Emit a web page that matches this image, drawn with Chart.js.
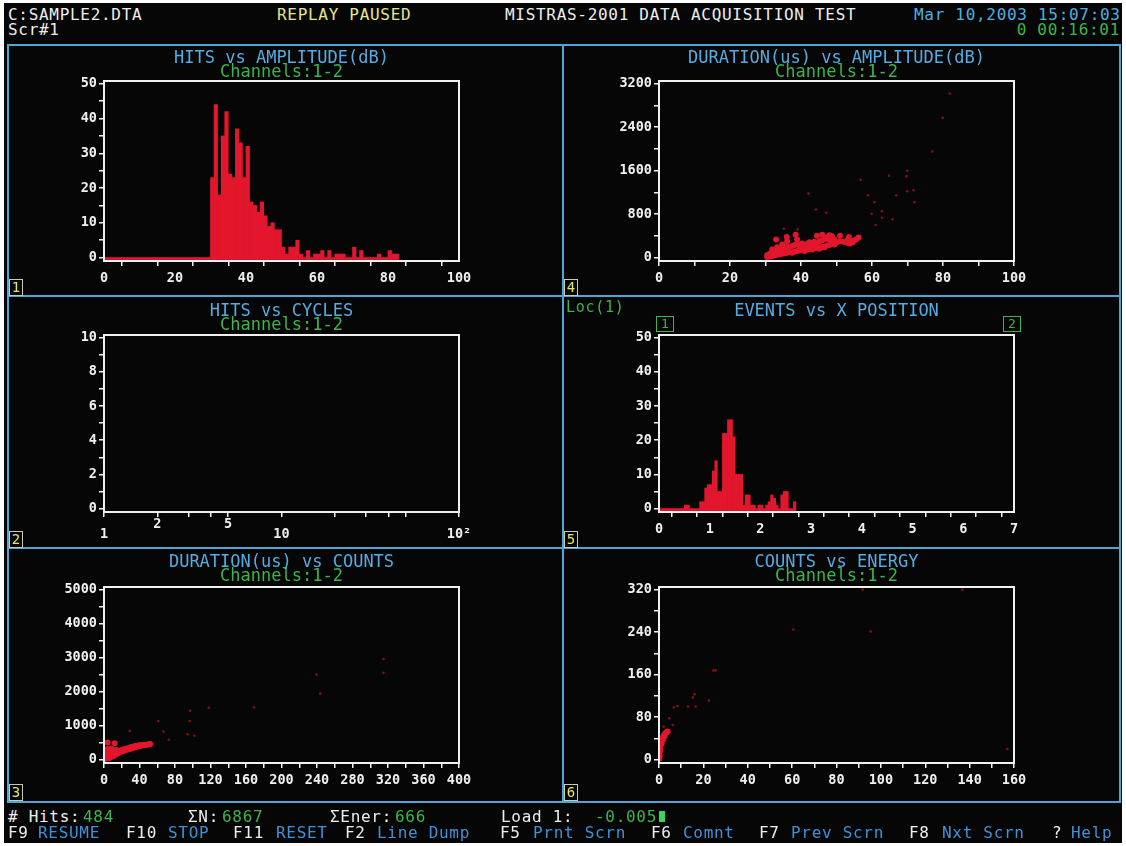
<!DOCTYPE html>
<html>
<head>
<meta charset="utf-8">
<script src="https://cdn.jsdelivr.net/npm/chart.js@4.4.0/dist/chart.umd.min.js"></script>
<style>
  body { margin: 0; background: #fff; width: 1126px; height: 846px; overflow: hidden; position: relative;
         font-family: 'DejaVu Sans Mono', monospace; }
  #screen { position: absolute; left: 4px; top: 3px; width: 1118px; height: 840px; background: #060606; }
  .t { position: absolute; font-size: 16px; line-height: 16px; letter-spacing: 0.7px; white-space: pre; color: #eee; }
  .line { position: absolute; background: #4fa6d6; }
  .num { position: absolute; width: 12px; height: 15px; border: 1px solid #c9c9b4; color: #e6e66a;
         font-size: 14px; line-height: 15px; text-align: center; }
  .gbox { position: absolute; width: 16px; height: 14px; border: 1px solid #3cb54a; color: #3cb54a;
          font-size: 13px; line-height: 14px; text-align: center; }
  canvas { position: absolute; }
  .w { color: #eee; } .g { color: #3cb54a; } .b { color: #3f92d8; } .y { color: #e6e68a; } .c { color: #4fb0e0; }
</style>
</head>
<body>
<div id="screen"></div>

<canvas id="c1" width="554" height="248" style="left:9px;top:47px"></canvas>
<canvas id="c4" width="554" height="248" style="left:564px;top:47px"></canvas>
<canvas id="c2" width="554" height="249" style="left:9px;top:298px"></canvas>
<canvas id="c5" width="554" height="249" style="left:564px;top:298px"></canvas>
<canvas id="c3" width="554" height="251" style="left:9px;top:550px"></canvas>
<canvas id="c6" width="554" height="251" style="left:564px;top:550px"></canvas>

<!-- frame -->
<div class="line" style="left:7px;top:44px;width:1114px;height:2px"></div>
<div class="line" style="left:7px;top:801px;width:1114px;height:2px"></div>
<div class="line" style="left:7px;top:44px;width:2px;height:759px"></div>
<div class="line" style="left:1119px;top:44px;width:2px;height:759px"></div>
<div class="line" style="left:562px;top:44px;width:2px;height:759px"></div>
<div class="line" style="left:7px;top:295px;width:1114px;height:2px"></div>
<div class="line" style="left:7px;top:547px;width:1114px;height:2px"></div>

<!-- panel numbers -->
<div class="num" style="left:9px;top:279px">1</div>
<div class="num" style="left:564px;top:279px">4</div>
<div class="num" style="left:9px;top:531px">2</div>
<div class="num" style="left:564px;top:531px">5</div>
<div class="num" style="left:9px;top:784px">3</div>
<div class="num" style="left:564px;top:784px">6</div>

<!-- panel 5 extras -->
<div class="t g" style="left:566px;top:299px;font-size:15px">Loc(1)</div>
<div class="gbox" style="left:656px;top:316px">1</div>
<div class="gbox" style="left:1003px;top:316px">2</div>

<!-- header -->
<div class="t w" style="left:8px;top:7px">C:SAMPLE2.DTA</div>
<div class="t w" style="left:8px;top:22px">Scr#1</div>
<div class="t y" style="left:277px;top:7px">REPLAY PAUSED</div>
<div class="t w" style="left:505px;top:7px">MISTRAS-2001 DATA ACQUISITION TEST</div>
<div class="t c" style="left:914px;top:7px">Mar 10,2003 15:07:03</div>
<div class="t g" style="right:6px;top:22px">0 00:16:01</div>

<!-- footer -->
<div class="t w" style="left:8px;top:809px"># Hits:</div>
<div class="t g" style="left:83px;top:809px">484</div>
<div class="t w" style="left:188px;top:809px">ΣN:</div>
<div class="t g" style="left:222px;top:809px">6867</div>
<div class="t w" style="left:330px;top:809px">ΣEner:</div>
<div class="t g" style="left:395px;top:809px">666</div>
<div class="t w" style="left:501px;top:809px">Load 1:</div>
<div class="t g" style="left:595px;top:809px">-0.005</div>
<div style="position:absolute;left:659px;top:811px;width:6px;height:11px;background:#3cd45a"></div>

<div class="t w" style="left:8px;top:825px">F9</div><div class="t b" style="left:38px;top:825px">RESUME</div>
<div class="t w" style="left:126px;top:825px">F10</div><div class="t b" style="left:168px;top:825px">STOP</div>
<div class="t w" style="left:233px;top:825px">F11</div><div class="t b" style="left:276px;top:825px">RESET</div>
<div class="t w" style="left:345px;top:825px">F2</div><div class="t b" style="left:377px;top:825px">Line Dump</div>
<div class="t w" style="left:500px;top:825px">F5</div><div class="t b" style="left:533px;top:825px">Prnt Scrn</div>
<div class="t w" style="left:651px;top:825px">F6</div><div class="t b" style="left:683px;top:825px">Comnt</div>
<div class="t w" style="left:759px;top:825px">F7</div><div class="t b" style="left:791px;top:825px">Prev Scrn</div>
<div class="t w" style="left:909px;top:825px">F8</div><div class="t b" style="left:942px;top:825px">Nxt Scrn</div>
<div class="t w" style="left:1052px;top:825px">?</div><div class="t b" style="left:1071px;top:825px">Help</div>

<script>
// ---- data: panel 1, hits per 1 dB amplitude bin (bins 0..82)
const ampHits = [
  0,0,0,0,0,0,0,0,0,0, 0,0,0,0,0,0,0,0,0,0, 0,0,0,0,0,0,0,0,0,0,
  23,44,18,35,42,24,23,37,33,23, 32,16,15,13,16,12,9,10,8,8,
  3,1,3,3,5,1,0,2,0,1, 1,2,0,2,0,1,1,1,0,0,
  3,0,2,0,0,0,0,1,0,0, 2,1,1
];
const ampBinWidth = 1;

// ---- panel 4, duration(us) vs amplitude(dB)
const durAmpCluster = [
  [30.5,10],[30.5,40],[31.2,20],[31.2,70],[31.9,30],[31.9,100],[31.9,150],[32.6,40],[32.6,110],
  [33.3,50],[33.3,130],[33.3,190],[34.0,60],[34.0,150],[34.7,70],[34.7,170],[34.7,240],[35.4,80],
  [35.4,180],[36.1,90],[36.1,200],[36.1,300],[36.8,100],[36.8,190],[37.5,90],[37.5,210],[38.2,110],
  [38.2,230],[38.9,120],[38.9,240],[38.9,330],[39.6,130],[39.6,220],[40.3,140],[40.3,260],[41.0,120],
  [41.0,230],[41.7,150],[41.7,250],[42.4,160],[42.4,280],[43.1,150],[43.1,240],[43.8,170],[43.8,290],
  [44.5,180],[44.5,260],[45.2,160],[45.2,300],[45.9,200],[45.9,320],[46.6,190],[46.6,330],[47.3,220],
  [47.3,370],[48.0,230],[48.0,330],[48.0,410],[48.7,260],[48.7,390],[49.4,240],[49.4,330],[50.1,280],
  [51.0,300],[52.0,290],[53.0,270],[53.0,310],[53.8,260],[53.8,300],[54.6,280],[54.6,310],[55.5,330],
  [56.2,370],[33,330],[36,380],[38.5,420],[44.5,400],[46,420],[51,400],[53.5,380]
];
const durAmpSparse = [
  [81.9,3020],[79.9,2574],[77,1952],[69.9,1598],[69.7,1494],[64.8,1506],[56.8,1433],[42.1,1177],
  [58.9,1147],[66.8,1147],[69.9,1220],[71.7,1238],[60.7,1019],[71.9,1019],[44.2,885],[47.1,823],
  [59.9,805],[62.8,854],[62.8,732],[65.8,702],[61,598],[35.2,531],[39,518]
];

// ---- panel 5, events per 0.05 x-position bin (bins 0..53)
const posEvents = [
  0,0,0,0,0,0,0,0,0,0, 1,1,0,0,0,0,2,2,6,7,
  7,11,14,5,5,22,22,26,26,21, 10,10,10,1,4,4,1,1,0,1,
  1,0,1,2,4,3,1,0,4,5, 5,0,0,2
];
const posBinWidth = 0.05;

// ---- panel 3, duration(us) vs counts
const durCntCluster = [
  [1,20],[1,120],[1,220],[2,60],[2,170],[2,280],[3,30],[3,130],[3,240],[4,80],[4,190],[4,310],[4,500],
  [5,40],[5,150],[5,260],[6,100],[6,210],[7,60],[7,170],[8,130],[8,240],[8,330],[9,90],[9,200],
  [10,150],[10,260],[11,110],[11,210],[12,170],[12,270],[12,480],[13,140],[14,200],[14,280],[15,170],
  [16,230],[17,200],[18,260],[19,230],[20,280],[21,250],[22,300],[23,270],[24,310],[25,290],[26,330],
  [27,300],[28,340],[29,320],[30,360],[31,330],[32,370],[33,350],[34,390],[35,360],[36,400],[37,380],
  [38,410],[39,390],[40,420],[41,400],[42,430],[44,420],[46,440],[48,430],[50,450],[52,460]
];
const durCntSparse = [
  [29,845],[61,1136],[67,825],[73,583],[94,748],[96.5,1136],[97,1437],[102,700],[118,1524],
  [169,1534],[239.5,2505],[243.6,1942],[315,2961],[315,2554]
];

// ---- panel 6, counts vs energy
const cntEnerCluster = [
  [0.2,2],[0.2,5],[0.3,8],[0.3,14],[0.4,20],[0.5,18],[0.5,26],[0.6,31],[0.9,34],[1.2,30],[1.4,36],
  [1.6,40],[1.8,38],[2.0,43],[2.2,46],[2.4,44],[2.7,48],[3.1,50],[3.5,52],[3.9,53]
];
const cntEnerSparse = [
  [2.1,62],[4.6,78],[6.2,65],[6.7,98],[8.3,101],[13,100],[15.3,117],[16,123],[16.5,100],[22.5,111],
  [24.5,168],[25.5,168],[60.5,245],[95.4,241],[91.8,320],[136.7,320],[157,20]
];

// ---- axis ticks and labels
const p1XTicks = [0,10,20,30,40,50,60,70,80,90,100], p1XLabels = [0,20,40,60,80,100];
const p1YTicks = [0,5,10,15,20,25,30,35,40,45,50], p1YLabels = [0,10,20,30,40,50];
const p4YTicks = [0,400,800,1200,1600,2000,2400,2800,3200], p4YLabels = [0,800,1600,2400,3200];
const p2XTicks = [1,2,3,4,5,10,20,30,40,50,100];
const p2XLabelVals = [1,2,5,10,100], p2XLabelText = ['1','2','5','10','10²'], p2XRaised = [2,5];
const p2YTicks = [0,1,2,3,4,5,6,7,8,9,10], p2YLabels = [0,2,4,6,8,10];
const p5XTicks = [0,0.5,1,1.5,2,2.5,3,3.5,4,4.5,5,5.5,6,6.5,7], p5XLabels = [0,1,2,3,4,5,6,7];
const p3XTicks = [0,20,40,60,80,100,120,140,160,180,200,220,240,260,280,300,320,340,360,380,400];
const p3XLabels = [0,40,80,120,160,200,240,280,320,360,400];
const p3YTicks = [0,500,1000,1500,2000,2500,3000,3500,4000,4500,5000], p3YLabels = [0,1000,2000,3000,4000,5000];
const p6XTicks = [0,10,20,30,40,50,60,70,80,90,100,110,120,130,140,150,160];
const p6XLabels = [0,20,40,60,80,100,120,140,160];
const p6YTicks = [0,40,80,120,160,200,240,280,320], p6YLabels = [0,80,160,240,320];

// ---- styling
const RED = 'rgb(226,22,44)';
const RED_DIM = 'rgba(175,18,36,0.75)';
const AXIS = '#f0f0f0';
const TITLE = '#55ace2';
const GREEN = '#3cb54a';
const MONO = "'DejaVu Sans Mono', monospace";
const tickFont = { family: MONO, size: 13.5, weight: 'bold', lineHeight: 0.75 };

const framePlugin = {
  id: 'frame',
  afterDatasetsDraw(chart) {
    const a = chart.chartArea, ctx = chart.ctx;
    ctx.save();
    ctx.strokeStyle = AXIS;
    ctx.lineWidth = 2;
    ctx.strokeRect(a.left, a.top, a.right - a.left, a.bottom - a.top);
    ctx.restore();
  }
};

function axis(o) {
  return {
    type: o.type || 'linear',
    display: true,
    min: o.min, max: o.max,
    offset: false,
    grid: { drawOnChartArea: false, drawTicks: true, tickLength: 5, color: AXIS, lineWidth: 1.5 },
    border: { display: false },
    ticks: {
      color: AXIS, font: tickFont, padding: o.pad !== undefined ? o.pad : 2, autoSkip: false, maxRotation: 0,
      callback: o.label
    },
    afterBuildTicks: (s) => { s.ticks = o.ticks.map(v => ({ value: v })); },
    afterFit: (s) => { if (o.w) s.width = o.w; if (o.h) s.height = o.h; }
  };
}
const plain = (labels) => (v) => labels.includes(v) ? String(v) : '';

function titles(row, title, sub) {
  const top = { 1: 5.2, 2: 6.7, 3: 5.7 }[row];
  const subPad = { 1: 1.6, 2: 3.1, 3: 4.1 }[row];
  const font = { family: MONO, size: 17, weight: 'normal', lineHeight: 0.8 };
  return {
    top,
    plugins: {
      legend: { display: false },
      tooltip: { enabled: false },
      title: { display: true, text: title, color: TITLE, font, fullSize: false,
               padding: { top: 0, bottom: sub ? 0 : (37 - top - 13.6) } },
      subtitle: { display: !!sub, text: sub || '', color: GREEN, font, fullSize: false,
                  padding: { top: 0, bottom: subPad } }
    }
  };
}

function makeChart(id, row, title, sub, datasets, xAxis, yAxis, type) {
  const t = titles(row, title, sub);
  const bottom = { 1: 4, 2: 5, 3: 8 }[row];
  new Chart(document.getElementById(id), {
    type: type,
    data: { datasets },
    options: {
      responsive: false, animation: false, devicePixelRatio: 1,
      layout: { padding: { left: 0, right: 104, top: t.top, bottom } },
      plugins: t.plugins,
      scales: { x: axis(xAxis), y: axis(yAxis) }
    },
    plugins: [framePlugin]
  });
}

function histogram(values, width) {
  return [{
    type: 'bar',
    data: values.map((v, i) => ({ x: i * width + width / 2, y: v })),
    backgroundColor: RED, borderWidth: 0, base: -0.6,
    barPercentage: 1, categoryPercentage: 1
  }];
}
function scatter(cluster, sparse) {
  return [
    { type: 'scatter', data: cluster.map(([x, y]) => ({ x, y })), pointRadius: 3,
      pointBackgroundColor: RED, pointBorderWidth: 0 },
    { type: 'scatter', data: sparse.map(([x, y]) => ({ x, y })), pointRadius: 1.3,
      pointBackgroundColor: RED_DIM, pointBorderWidth: 0 }
  ];
}

// panel 1
makeChart('c1', 1, 'HITS vs AMPLITUDE(dB)', 'Channels:1-2', histogram(ampHits, ampBinWidth),
  { min: 0, max: 100, ticks: p1XTicks, label: plain(p1XLabels), h: 30, pad: 7 },
  { min: -1, max: 50.8, ticks: p1YTicks, label: plain(p1YLabels), w: 95 }, 'bar');

// panel 4
makeChart('c4', 1, 'DURATION(us) vs AMPLITUDE(dB)', 'Channels:1-2', scatter(durAmpCluster, durAmpSparse),
  { min: 0, max: 100, ticks: p1XTicks, label: plain(p1XLabels), h: 30, pad: 7 },
  { min: -64, max: 3251, ticks: p4YTicks, label: plain(p4YLabels), w: 95 }, 'scatter');

// panel 2
makeChart('c2', 2, 'HITS vs CYCLES', 'Channels:1-2', [{ type: 'scatter', data: [] }],
  { type: 'logarithmic', min: 1, max: 100, ticks: p2XTicks, h: 30, pad: 2,
    label: (v) => {
      const i = p2XLabelVals.indexOf(v);
      if (i < 0) return '';
      return p2XRaised.includes(v) ? [p2XLabelText[i]] : ['', p2XLabelText[i]];
    } },
  { min: -0.2, max: 10.16, ticks: p2YTicks, label: plain(p2YLabels), w: 95 }, 'scatter');

// panel 5
makeChart('c5', 2, 'EVENTS vs X POSITION', null, histogram(posEvents, posBinWidth),
  { min: 0, max: 7, ticks: p5XTicks, label: plain(p5XLabels), h: 30, pad: 7 },
  { min: -1, max: 50.8, ticks: p1YTicks, label: plain(p1YLabels), w: 95 }, 'bar');

// panel 3
makeChart('c3', 3, 'DURATION(us) vs COUNTS', 'Channels:1-2', scatter(durCntCluster, durCntSparse),
  { min: 0, max: 400, ticks: p3XTicks, label: plain(p3XLabels), h: 30, pad: 7 },
  { min: -100, max: 5080, ticks: p3YTicks, label: plain(p3YLabels), w: 95 }, 'scatter');

// panel 6
makeChart('c6', 3, 'COUNTS vs ENERGY', 'Channels:1-2', scatter(cntEnerCluster, cntEnerSparse),
  { min: 0, max: 160, ticks: p6XTicks, label: plain(p6XLabels), h: 30, pad: 7 },
  { min: -6.4, max: 325, ticks: p6YTicks, label: plain(p6YLabels), w: 95 }, 'scatter');
</script>
</body>
</html>
